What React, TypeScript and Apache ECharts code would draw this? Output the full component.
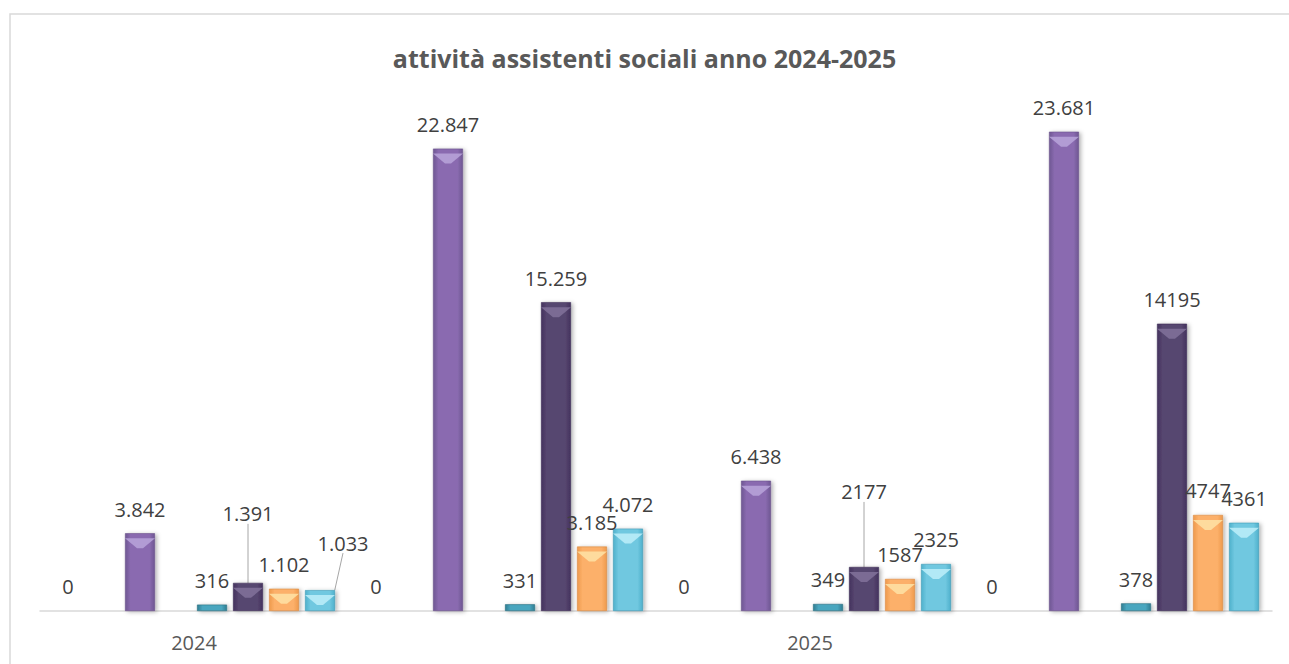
import React, { useEffect, useRef } from "react";
import * as echarts from "echarts";

// ---- data ----
const categories = ["2024", "", "2025", ""];
const seriesNames = ["Serie 1", "Serie 2", "Serie 3", "Serie 4", "Serie 5", "Serie 6", "Serie 7", "Serie 8"];
const serie1: number[] = [0, 0, 0, 0];
const serie2: number[] = [];
const serie3: number[] = [3842, 22847, 6438, 23681];
const serie4: number[] = [];
const serie5: number[] = [316, 331, 349, 378];
const serie6: number[] = [1391, 15259, 2177, 14195];
const serie7: number[] = [1102, 3185, 1587, 4747];
const serie8: number[] = [1033, 4072, 2325, 4361];
const allSeries = [serie1, serie2, serie3, serie4, serie5, serie6, serie7, serie8];
// whether a value is shown with a thousands dot (as in the source sheet)
const thousandsDot: boolean[][] = [
  [false, false, false, false],
  [],
  [true, true, true, true],
  [],
  [false, false, false, false],
  [true, true, false, false],
  [true, true, false, false],
  [true, true, false, false],
];
const yMin = 0;
const yMax = 25000;
const titleText = "attività assistenti sociali anno 2024-2025";

// ---- styling ----
type Pal = { edge: string; mid: string; top: string; border: string } | null;
const palette: Pal[] = [
  { edge: "#6f5693", mid: "#8a6bb0", top: "#b9a4da", border: "#6a528a" },
  null,
  { edge: "#6f5693", mid: "#8a6bb0", top: "#b9a4da", border: "#6a528a" },
  null,
  { edge: "#2f7e93", mid: "#4aa6bf", top: "#8fd3e6", border: "#2a6e80" },
  { edge: "#43325e", mid: "#57466f", top: "#81729a", border: "#3e2f57" },
  { edge: "#ee9a4c", mid: "#fcb06a", top: "#fee3a6", border: "#d98a43" },
  { edge: "#4fb1cc", mid: "#70c8e0", top: "#bdeff9", border: "#3f9bb5" },
];
const bevelOn = [false, false, true, false, false, true, true, true];
// moved labels (with leader line): seriesIndex -> dataIndex -> [dx, dy]
const labelShift: Record<number, Record<number, [number, number]>> = {
  5: { 0: [0, -45], 2: [0, -51] },
  7: { 0: [23, -23] },
};
const FONT = "'Open Sans', 'Noto Sans', sans-serif";

function fmt(v: number, dot: boolean): string {
  const s = String(Math.round(v));
  return dot ? s.replace(/\B(?=(\d{3})+(?!\d))/g, ".") : s;
}

export default function App() {
  const ref = useRef<HTMLDivElement>(null);
  useEffect(() => {
    document.body.style.margin = "0";
    if (!ref.current) return;
    const chart = echarts.init(ref.current, undefined, { renderer: "svg" });

    const barSeries = allSeries.map((vals, si) => {
      const pal = palette[si];
      const color = pal
        ? new echarts.graphic.LinearGradient(0, 0, 1, 0, [
            { offset: 0, color: pal.edge },
            { offset: 0.18, color: pal.mid },
            { offset: 0.82, color: pal.mid },
            { offset: 1, color: pal.edge },
          ])
        : "#8064A2";
      const shifts = labelShift[si] || {};
      return {
        type: "bar",
        name: seriesNames[si],
        barWidth: 30,
        barGap: "20%",
        z: 2,
        data: vals.map((v, di) =>
          shifts[di]
            ? { value: v, labelLine: { show: true, lineStyle: { color: "#a6a6a6", width: 1 } } }
            : v
        ),
        itemStyle: {
          color,
          borderColor: pal ? pal.border : undefined,
          borderWidth: 0.6,
          shadowColor: "rgba(0,0,0,0.3)",
          shadowBlur: 4,
          shadowOffsetX: 2,
          shadowOffsetY: 1,
        },
        label: {
          show: true,
          position: "top",
          distance: 14,
          color: "#404040",
          fontSize: 20,
          fontFamily: FONT,
          formatter: (p: any) => fmt(p.value, !!(thousandsDot[si] && thousandsDot[si][p.dataIndex])),
        },
        labelLine: { show: false },
        labelLayout: (p: any) => {
          const s = shifts[p.dataIndex];
          return s ? { dx: s[0], dy: s[1] } : {};
        },
      };
    });

    const bevelSeries = allSeries.map((vals, si) => ({
      type: "pictorialBar",
      name: seriesNames[si] + " bevel",
      barWidth: 30,
      barGap: "20%",
      z: 3,
      silent: true,
      data: bevelOn[si] ? vals : [],
      symbol: "path://M0,0 L30,0 L18,10 L12,10 Z",
      symbolSize: [30, 10],
      symbolPosition: "end",
      symbolOffset: [0, "50%"],
      itemStyle: { color: palette[si] ? palette[si]!.top : "#fff", opacity: 0.85 },
      label: { show: false },
    }));

    chart.setOption({
      animation: false,
      backgroundColor: "#ffffff",
      title: {
        text: titleText,
        left: "center",
        top: 40,
        textStyle: { fontFamily: FONT, fontWeight: "bold", fontSize: 25, color: "#595959" },
      },
      graphic: [
        {
          type: "rect",
          silent: true,
          shape: { x: 10, y: 14, width: 1300, height: 700 },
          style: { fill: "none", stroke: "#d9d9d9", lineWidth: 1.5 },
        },
      ],
      grid: { left: 40, right: 17, top: 105, bottom: 53, containLabel: false },
      xAxis: {
        type: "category",
        data: categories,
        axisLine: { lineStyle: { color: "#d9d9d9", width: 1.5 } },
        axisTick: { show: false },
        axisLabel: { color: "#595959", fontSize: 20, fontFamily: FONT, margin: 21, interval: 0 },
        splitLine: { show: false },
      },
      yAxis: { type: "value", min: yMin, max: yMax, show: false },
      tooltip: { show: false },
      series: [...barSeries, ...bevelSeries],
    });
    return () => chart.dispose();
  }, []);
  return <div ref={ref} style={{ width: 1289, height: 664 }} />;
}
